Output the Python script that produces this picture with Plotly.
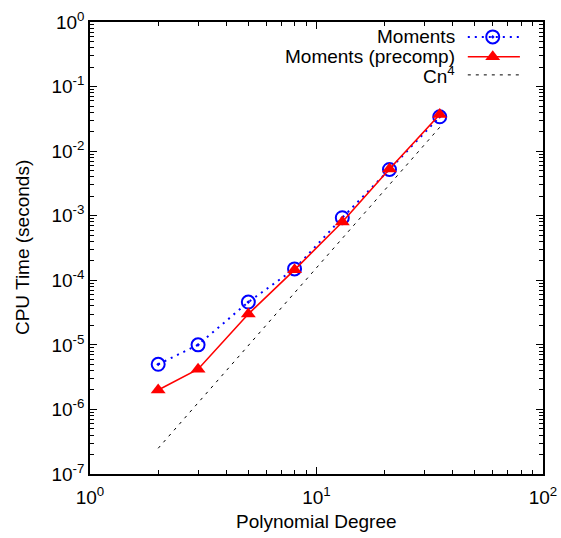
import plotly.graph_objects as go

# Polynomial degree vs. CPU time (log-log)
degree = [2, 3, 5, 8, 13, 21, 35]
moments = [5.0e-6, 1.0e-5, 4.6e-5, 1.5e-4, 9.3e-4, 5.2e-3, 3.4e-2]
moments_precomp = [2.0e-6, 4.2e-6, 3.0e-5, 1.45e-4, 8.0e-4, 5.3e-3, 3.7e-2]
ref_cn4 = [2.5e-7, 1.26e-6, 9.75e-6, 6.4e-5, 4.46e-4, 3.03e-3, 2.34e-2]

x_ticks = [1, 10, 100]
x_ticktext = ["10<sup>0</sup>", "10<sup>1</sup>", "10<sup>2</sup>"]
y_ticks = [1e-7, 1e-6, 1e-5, 1e-4, 1e-3, 1e-2, 1e-1, 1]
y_ticktext = ["10<sup>-7</sup>", "10<sup>-6</sup>", "10<sup>-5</sup>", "10<sup>-4</sup>",
              "10<sup>-3</sup>", "10<sup>-2</sup>", "10<sup>-1</sup>", "10<sup>0</sup>"]

legend_labels = ["Moments", "Moments (precomp)", "Cn<sup>4</sup>"]

FONT = "Liberation Sans, Arial, sans-serif"
FS = 19
BLUE = "#0000ff"
RED = "#ff0000"

def minor_vals(lo_exp, hi_exp):
    vals = []
    for e in range(lo_exp, hi_exp):
        for d in range(2, 10):
            vals.append(d * 10.0 ** e)
    return vals

fig = go.Figure()

fig.add_trace(go.Scatter(
    x=degree, y=ref_cn4, mode="lines",
    line=dict(color="black", width=1, dash="3px,5px"), showlegend=False))
fig.add_trace(go.Scatter(
    x=degree, y=moments, mode="lines+markers",
    line=dict(color=BLUE, width=2, dash="2px,5px"),
    marker=dict(symbol="circle-open-dot", size=13, color=BLUE, line=dict(width=2, color=BLUE)),
    showlegend=False))
fig.add_trace(go.Scatter(
    x=degree, y=moments_precomp, mode="lines+markers",
    line=dict(color=RED, width=1.6),
    marker=dict(symbol="triangle-up", size=13, color=RED),
    showlegend=False))

# Legend key samples on an overlay axis in [0, 1] coordinates
key_y = [0.967, 0.923, 0.883]
key_x0, key_x1, key_mid = 0.834, 0.949, 0.889
fig.add_trace(go.Scatter(
    x=[key_x0, key_x1], y=[key_y[0]] * 2, xaxis="x2", yaxis="y2", mode="lines",
    line=dict(color=BLUE, width=2, dash="2px,5px"), showlegend=False, hoverinfo="skip"))
fig.add_trace(go.Scatter(
    x=[key_mid], y=[key_y[0]], xaxis="x2", yaxis="y2", mode="markers",
    marker=dict(symbol="circle-open-dot", size=13, color=BLUE, line=dict(width=2, color=BLUE)),
    showlegend=False, hoverinfo="skip"))
fig.add_trace(go.Scatter(
    x=[key_x0, key_mid, key_x1], y=[key_y[1]] * 3, xaxis="x2", yaxis="y2", mode="lines",
    line=dict(color=RED, width=1.6), showlegend=False, hoverinfo="skip"))
fig.add_trace(go.Scatter(
    x=[key_mid], y=[key_y[1]], xaxis="x2", yaxis="y2", mode="markers",
    marker=dict(symbol="triangle-up", size=13, color=RED), showlegend=False, hoverinfo="skip"))
fig.add_trace(go.Scatter(
    x=[key_x0, key_x1], y=[key_y[2]] * 2, xaxis="x2", yaxis="y2", mode="lines",
    line=dict(color="black", width=1, dash="3px,5px"), showlegend=False, hoverinfo="skip"))

for label, ky in zip(legend_labels, key_y):
    fig.add_annotation(x=0.81, y=ky, xref="x2", yref="y2", text=label, showarrow=False,
                       xanchor="right", yanchor="middle",
                       font=dict(family=FONT, size=FS, color="black"))

# Axis titles
fig.add_annotation(x=0.5, y=-0.106, xref="paper", yref="paper", text="Polynomial Degree",
                   showarrow=False, xanchor="center", yanchor="middle",
                   font=dict(family=FONT, size=FS, color="black"))
fig.add_annotation(x=-0.150, y=0.5, xref="paper", yref="paper", text="CPU Time (seconds)",
                   showarrow=False, xanchor="center", yanchor="middle", textangle=-90,
                   font=dict(family=FONT, size=FS, color="black"))

axis_common = dict(
    type="log", showgrid=False, zeroline=False, showline=True, linecolor="black",
    linewidth=1.5, ticks="inside", ticklen=7, tickwidth=1, tickcolor="black",
    mirror="allticks", automargin=False,
    tickfont=dict(family=FONT, size=FS, color="black"),
)

fig.update_layout(
    width=561, height=538,
    margin=dict(l=90, r=18, t=22, b=64),
    paper_bgcolor="white", plot_bgcolor="white",
    xaxis=dict(range=[0, 2], tickvals=x_ticks, ticktext=x_ticktext, ticklabelstandoff=5,
               minor=dict(tickvals=minor_vals(0, 2), ticks="inside", ticklen=4,
                          tickcolor="black", showgrid=False),
               **axis_common),
    yaxis=dict(range=[-7, 0], tickvals=y_ticks, ticktext=y_ticktext,
               minor=dict(tickvals=minor_vals(-7, 0), ticks="inside", ticklen=4,
                          tickcolor="black", showgrid=False),
               **axis_common),
    xaxis2=dict(overlaying="x", range=[0, 1], visible=False, fixedrange=True),
    yaxis2=dict(overlaying="y", range=[0, 1], visible=False, fixedrange=True),
    showlegend=False,
)

fig.write_html("out.html")
